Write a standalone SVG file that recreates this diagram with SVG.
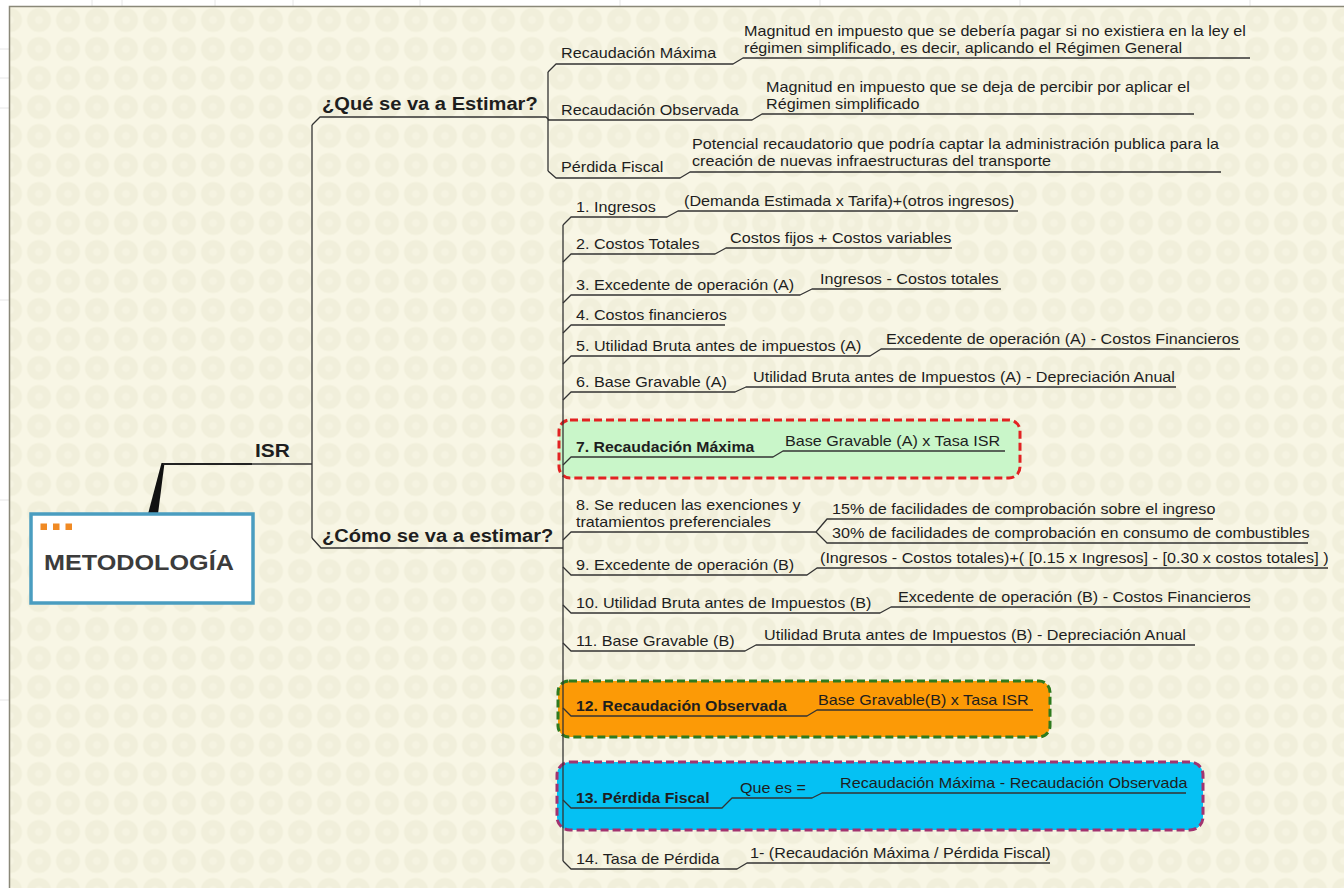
<svg xmlns="http://www.w3.org/2000/svg" width="1344" height="888" viewBox="0 0 1344 888">
<defs>
<pattern id="dots" x="24.5" y="5.5" width="29" height="29" patternUnits="userSpaceOnUse">
<circle cx="14.5" cy="14.5" r="12" fill="#F1EFDB"/>
<circle cx="14.5" cy="14.5" r="4" fill="#F5F3E1"/>
</pattern>
<style>
text{font-family:"Liberation Sans",Arial,sans-serif;fill:#1E1E1E}
.t{font-size:14.3px}
.b{font-size:14px;font-weight:bold}
.h{font-size:17.8px;font-weight:bold}
.c{stroke:#333;stroke-width:1.3;fill:none;stroke-linejoin:round}
.grid{stroke:#E6E6E6;stroke-width:1}
</style>
</defs>
<rect width="1344" height="888" fill="#FFFFFF"/>
<g class="grid">
<line x1="92" y1="0" x2="92" y2="6"/><line x1="122" y1="0" x2="122" y2="6"/><line x1="215" y1="0" x2="215" y2="6"/><line x1="293" y1="0" x2="293" y2="6"/><line x1="420" y1="0" x2="420" y2="6"/><line x1="620" y1="0" x2="620" y2="6"/><line x1="820" y1="0" x2="820" y2="6"/><line x1="1020" y1="0" x2="1020" y2="6"/><line x1="1250" y1="0" x2="1250" y2="6"/>
<line x1="0" y1="49" x2="9" y2="49"/><line x1="0" y1="78" x2="9" y2="78"/><line x1="0" y1="108" x2="9" y2="108"/><line x1="0" y1="300" x2="9" y2="300"/><line x1="0" y1="500" x2="9" y2="500"/><line x1="0" y1="700" x2="9" y2="700"/>
</g>
<rect x="9" y="6" width="1335" height="882" fill="#F8F6E5"/>
<rect x="9" y="6" width="1335" height="882" fill="url(#dots)"/>
<path d="M9.5,888 L9.5,6.5 L1344,6.5" stroke="#8A8878" stroke-width="1.5" fill="none"/>

<g id="boxes">
<rect id="box7" x="559" y="420" width="461" height="58" rx="11" fill="#C9F6C9" stroke="#E22222" stroke-width="3" stroke-dasharray="8 4"/>
<rect id="box12" x="558" y="681" width="492" height="56" rx="11" fill="#FC9A06" stroke="#2E7A1E" stroke-width="3" stroke-dasharray="8 4"/>
<rect id="box13" x="557" y="762" width="646" height="68" rx="13" fill="#05C1F3" stroke="#A2336F" stroke-width="3" stroke-dasharray="8 4"/>
</g>

<g id="connectors">
<polygon points="148,514 158,514 164.5,463 161.5,463" fill="#111"/>
<line x1="163" y1="464" x2="252" y2="464" stroke="#222" stroke-width="2.2"/>
<line x1="252" y1="464" x2="312" y2="464" stroke="#333" stroke-width="1.5"/>
<path class="c" d="M312,125 L312,538"/>
<path class="c" d="M312,125 L320,117 L546,117 L549,120"/>
<path class="c" d="M312,538 L321,548 L563,548"/>
<path class="c" d="M548,72 L548,171"/>
<path class="c" d="M548,72 L556,64 L733,64 L743,58 L1250,58"/>
<path class="c" d="M548,120 L752,120 L762,114 L1194,114"/>
<path class="c" d="M548,171 L556,178 L680,178 L690,172 L1221,172"/>
<path class="c" d="M563,225 L563,861"/>
<path class="c" d="M563,225 L571,217 L667,217 L678,211 L1018,211"/>
<path class="c" d="M563,262 L571,254 L715,254 L726,248 L952,248"/>
<path class="c" d="M563,303 L571,295 L800,295 L812,289 L1001,289"/>
<path class="c" d="M563,333 L571,325 L725,325"/>
<path class="c" d="M563,364 L571,356 L870,356 L881,349 L1240,349"/>
<path class="c" d="M563,400 L571,392 L735,392 L746,387 L1176,387"/>
<path class="c" d="M563,465 L571,457 L773,457 L783,451 L1005,451"/>
<path class="c" d="M563,540 L571,532 L816,532 L827,519 L1213,519"/>
<path class="c" d="M816,532 L827,543 L1308,543"/>
<path class="c" d="M563,567 L571,575 L807,575 L817,568 L1328,568"/>
<path class="c" d="M563,605 L571,613 L880,613 L891,607 L1250,607"/>
<path class="c" d="M563,643 L571,651 L745,651 L756,645 L1195,645"/>
<path class="c" d="M563,708 L571,716 L807,716 L817,710 L1033,710"/>
<path class="c" d="M563,800 L571,808 L722,808 L732,798 L812,798 L822,793 L1186,793"/>
<path class="c" d="M563,861 L571,869 L737,869 L747,863 L1050,863"/>
</g>

<g id="metodologia">
<rect x="31" y="514" width="222" height="89" fill="#FFFFFF" stroke="#4A9DC0" stroke-width="3.5"/>
<rect x="40.5" y="523.5" width="6.5" height="6.5" fill="#F08A24"/>
<rect x="53" y="523.5" width="6.5" height="6.5" fill="#F08A24"/>
<rect x="65.5" y="523.5" width="6.5" height="6.5" fill="#F08A24"/>
<text transform="translate(44 570) scale(1.13 1)" style="font-size:22.3px;font-weight:bold;fill:#3C3C3C">METODOLOGÍA</text>
</g>

<g id="isr"><text transform="translate(255 457) scale(1.1 1)" style="font-size:19px;font-weight:bold">ISR</text></g>

<g id="que"><text class="h" transform="translate(322 110) scale(1.13 1)">¿Qué se va a Estimar?</text></g>
<g id="como"><text class="h" transform="translate(322 542) scale(1.13 1)">¿Cómo se va a estimar?</text></g>

<g id="rmax">
<text class="t" transform="translate(561 58) scale(1.13 1)">Recaudación Máxima</text>
<text class="t" transform="translate(744 36) scale(1.13 1)">Magnitud en impuesto que se debería pagar si no existiera en la ley el</text>
<text class="t" transform="translate(744 53) scale(1.13 1)">régimen simplificado, es decir, aplicando el Régimen General</text>
</g>
<g id="robs">
<text class="t" transform="translate(561 115) scale(1.13 1)">Recaudación Observada</text>
<text class="t" transform="translate(766 92) scale(1.13 1)">Magnitud en impuesto que se deja de percibir por aplicar el</text>
<text class="t" transform="translate(766 109) scale(1.13 1)">Régimen simplificado</text>
</g>
<g id="pfis">
<text class="t" transform="translate(561 172) scale(1.13 1)">Pérdida Fiscal</text>
<text class="t" transform="translate(692 149) scale(1.13 1)">Potencial recaudatorio que podría captar la administración publica para la</text>
<text class="t" transform="translate(692 166) scale(1.13 1)">creación de nuevas infraestructuras del transporte</text>
</g>

<g id="i1"><text class="t" transform="translate(576 212) scale(1.13 1)">1. Ingresos</text><text class="t" transform="translate(684 206) scale(1.13 1)">(Demanda Estimada x Tarifa)+(otros ingresos)</text></g>
<g id="i2"><text class="t" transform="translate(576 249) scale(1.13 1)">2. Costos Totales</text><text class="t" transform="translate(730 243) scale(1.13 1)">Costos fijos + Costos variables</text></g>
<g id="i3"><text class="t" transform="translate(576 290) scale(1.13 1)">3. Excedente de operación (A)</text><text class="t" transform="translate(820 284) scale(1.13 1)">Ingresos - Costos totales</text></g>
<g id="i4"><text class="t" transform="translate(576 320) scale(1.13 1)">4. Costos financieros</text></g>
<g id="i5"><text class="t" transform="translate(576 351) scale(1.13 1)">5. Utilidad Bruta antes de impuestos (A)</text><text class="t" transform="translate(886 344) scale(1.13 1)">Excedente de operación (A) - Costos Financieros</text></g>
<g id="i6"><text class="t" transform="translate(576 387) scale(1.13 1)">6. Base Gravable (A)</text><text class="t" transform="translate(753 382) scale(1.13 1)">Utilidad Bruta antes de Impuestos (A) - Depreciación Anual</text></g>
<g id="i7"><text class="b" transform="translate(576 452) scale(1.13 1)">7. Recaudación Máxima</text><text class="t" transform="translate(785 446) scale(1.13 1)">Base Gravable (A) x Tasa ISR</text></g>
<g id="i8"><text class="t" transform="translate(576 510) scale(1.13 1)">8. Se reducen las exenciones y</text><text class="t" transform="translate(576 527) scale(1.13 1)">tratamientos preferenciales</text>
<text class="t" transform="translate(832 514) scale(1.13 1)">15% de facilidades de comprobación sobre el ingreso</text>
<text class="t" transform="translate(832 538) scale(1.13 1)">30% de facilidades de comprobación en consumo de combustibles</text></g>
<g id="i9"><text class="t" transform="translate(576 570) scale(1.13 1)">9. Excedente de operación (B)</text><text class="t" transform="translate(820 563) scale(1.13 1)">(Ingresos - Costos totales)+( [0.15 x Ingresos] - [0.30 x costos totales] )</text></g>
<g id="i10"><text class="t" transform="translate(576 608) scale(1.13 1)">10. Utilidad Bruta antes de Impuestos (B)</text><text class="t" transform="translate(898 602) scale(1.13 1)">Excedente de operación (B) - Costos Financieros</text></g>
<g id="i11"><text class="t" transform="translate(576 646) scale(1.13 1)">11. Base Gravable (B)</text><text class="t" transform="translate(764 640) scale(1.13 1)">Utilidad Bruta antes de Impuestos (B) - Depreciación Anual</text></g>
<g id="i12"><text class="b" transform="translate(576 711) scale(1.13 1)">12. Recaudación Observada</text><text class="t" transform="translate(818 705) scale(1.13 1)">Base Gravable(B) x Tasa ISR</text></g>
<g id="i13"><text class="b" transform="translate(576 803) scale(1.13 1)">13. Pérdida Fiscal</text><text class="t" transform="translate(740 793) scale(1.13 1)">Que es =</text><text class="t" transform="translate(840 788) scale(1.13 1)">Recaudación Máxima - Recaudación Observada</text></g>
<g id="i14"><text class="t" transform="translate(576 864) scale(1.13 1)">14. Tasa de Pérdida</text><text class="t" transform="translate(750 858) scale(1.13 1)">1- (Recaudación Máxima / Pérdida Fiscal)</text></g>
</svg>
